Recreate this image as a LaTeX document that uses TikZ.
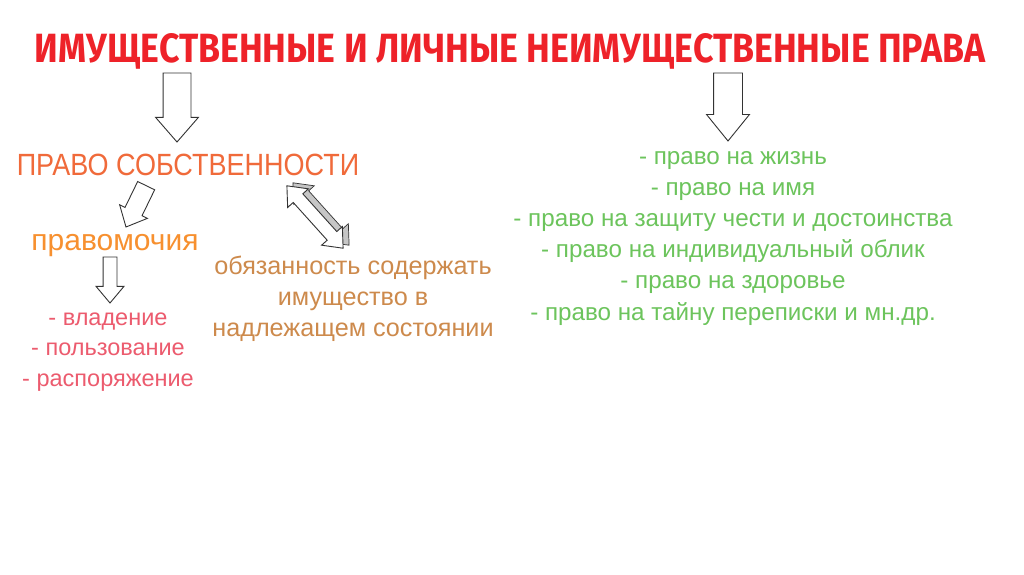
\documentclass[tikz,border=0pt]{standalone}
\usepackage{fontspec}
\setmainfont{Liberation Sans}
\newfontfamily\titlefont{Fira Sans}
\newfontfamily\narrowfont{Liberation Sans}[FakeStretch=0.88]
\usetikzlibrary{shapes.arrows}

\definecolor{titlered}{HTML}{EE2229}
\definecolor{ownorange}{HTML}{F06A3A}
\definecolor{powerorange}{HTML}{F7902F}
\definecolor{dutybrown}{HTML}{CD8A4C}
\definecolor{listpink}{HTML}{EC5B6E}
\definecolor{rightgreen}{HTML}{6CC45C}
\definecolor{arrowgray}{HTML}{333333}

\tikzset{
  hollow/.style={draw=arrowgray, fill=white, line width=0.9pt, inner xsep=0pt, outer sep=0pt},
  pinktext/.style={anchor=base, text=listpink, font=\fontsize{23.5}{28}\selectfont},
  dutytext/.style={anchor=base, text=dutybrown, font=\fontsize{25.2}{30}\selectfont},
  greentext/.style={anchor=base, text=rightgreen, font=\fontsize{24.2}{29}\selectfont}
}

\begin{document}
\begin{tikzpicture}[x=1pt,y=-1pt]
    \useasboundingbox[fill=white] (0,0) rectangle (1024,574);

    % title
    \node[anchor=base, text=titlered] (title) at (510,62)
        {\resizebox{950pt}{29pt}{\titlefont\bfseries ИМУЩЕСТВЕННЫЕ И ЛИЧНЫЕ НЕИМУЩЕСТВЕННЫЕ ПРАВА}};

    % block arrows, placed by their tips
    \node[hollow, single arrow, rotate=-90, anchor=tip, minimum height=69pt, inner ysep=13.5pt,
          single arrow head extend=7.5pt, single arrow tip angle=82] (down1) at (177,142) {};
    \node[hollow, single arrow, rotate=-90, anchor=tip, minimum height=68pt, inner ysep=14pt,
          single arrow head extend=7pt, single arrow tip angle=78] (down2) at (728,141) {};
    \node[hollow, single arrow, rotate=-116, anchor=tip, minimum height=46pt, inner ysep=9pt,
          single arrow head extend=6pt, single arrow tip angle=84] (slant) at (126,227) {};
    \node[hollow, single arrow, rotate=-90, anchor=tip, minimum height=46pt, inner ysep=6.5pt,
          single arrow head extend=7pt, single arrow tip angle=80] (down3) at (110,303) {};

    % double arrow with its side face
    \node[draw=arrowgray, fill=gray!45, line width=0.7pt, inner xsep=0pt, inner ysep=6pt, double arrow, rotate=-48,
          minimum height=84pt, double arrow head extend=7.5pt,
          double arrow tip angle=80] (link back) at (321,214) {};
    \node[hollow, double arrow, rotate=-48, minimum height=84pt, inner ysep=6pt,
          double arrow head extend=7.5pt, double arrow tip angle=80] (link) at (315,217) {};

    % left part
    \node[anchor=base, text=ownorange, font=\narrowfont\fontsize{30.7}{36}\selectfont] (own) at (188,175) {ПРАВО СОБСТВЕННОСТИ};
    \node[anchor=base, text=powerorange, font=\fontsize{30}{36}\selectfont] (powers) at (115,250) {правомочия};

    \foreach \txt [count=\i] in {- владение, - пользование, - распоряжение}
        \node[pinktext] (p\i) at (108,325+30.5*\i-30.5) {\txt};

    \foreach \txt [count=\i] in {обязанность содержать, имущество в, надлежащем состоянии}
        \node[dutytext] (d\i) at (353,274+31*\i-31) {\txt};

    % right part
    \foreach \txt [count=\i] in {- право на жизнь, - право на имя, - право на защиту чести и достоинства,
                                 - право на индивидуальный облик, - право на здоровье,
                                 - право на тайну переписки и мн.др.}
        \node[greentext] (g\i) at (733,164+31.2*\i-31.2) {\txt};
\end{tikzpicture}
\end{document}
